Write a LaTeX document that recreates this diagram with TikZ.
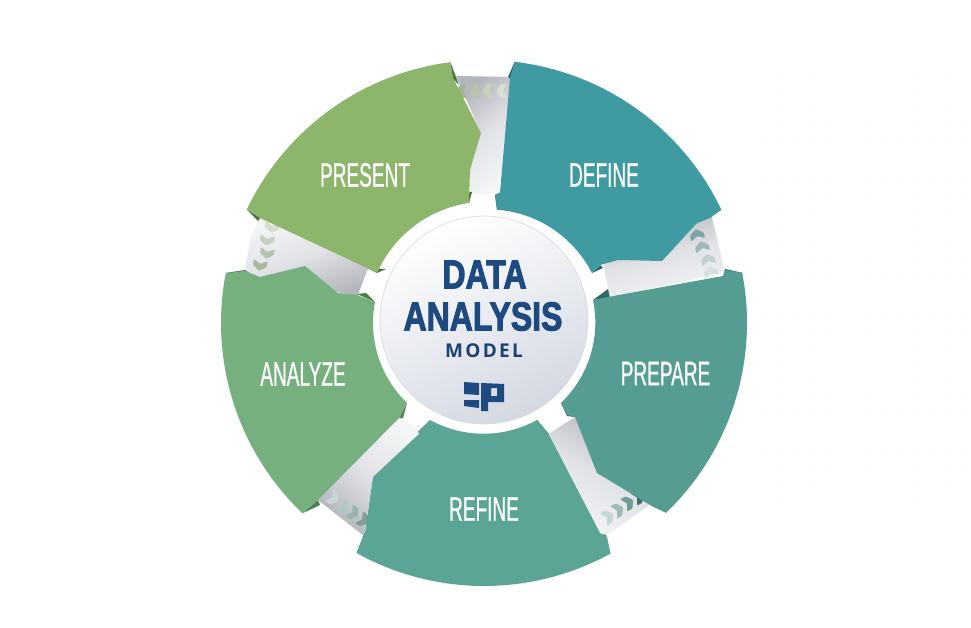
\documentclass[tikz,border=0pt]{standalone}
\usepackage{fontspec}
\setmainfont{Liberation Sans}
\newfontfamily\lblfont[FakeStretch=0.56,FakeBold=0.6]{Liberation Sans}
\newfontfamily\titlefont[FakeStretch=0.79,FakeBold=2.4]{Liberation Sans Bold}
\newfontfamily\modelfont[LetterSpace=12]{Open Sans Bold}
\definecolor{cpresent}{HTML}{8DB56B}
\definecolor{cdefine}{HTML}{3F9AA1}
\definecolor{cprepare}{HTML}{559C92}
\definecolor{crefine}{HTML}{5BA596}
\definecolor{canalyze}{HTML}{76B07F}
\definecolor{dpresent}{HTML}{4F7148}
\definecolor{ddefine}{HTML}{25696F}
\definecolor{dprepare}{HTML}{2C6A66}
\definecolor{drefine}{HTML}{2C6F68}
\definecolor{danalyze}{HTML}{4D7F4E}
\definecolor{navy}{HTML}{1D4A80}
\definecolor{ribdark}{HTML}{B4B6BD}
\definecolor{ribmid}{HTML}{E0E2E7}
\definecolor{riblight}{HTML}{F3F5F6}
\definecolor{discdark}{HTML}{D3D8E2}
\definecolor{discedge}{HTML}{D9DCE3}
\def\oarc#1#2{-- plot[domain=#1:#2,samples=40,variable=\t] ({484+263*cos(\t)},{323-263*sin(\t)})}
\def\iarc#1#2#3#4{-- plot[domain=0:1,samples=30,variable=\t] ({484+(#2+(#4-#2)*\t)*cos(#1+(#3-#1)*\t)},{323-(#2+(#4-#2)*\t)*sin(#1+(#3-#1)*\t)})}
\def\chev#1#2#3#4{\definecolor{chevc}{HTML}{#4}\fill[chevc,shift={(#1,#2)},rotate=#3,rounded corners=1pt] (-5,-7) -- (1,-7) -- (6,0) -- (1,7) -- (-5,7) -- (-1,0) -- cycle;}
\tikzset{
  lbl/.style={inner sep=0pt,text=white,anchor=center,font=\lblfont\fontsize{34}{34}\selectfont},
  ttl/.style={inner sep=0pt,text=navy,anchor=center,font=\titlefont\fontsize{40.5}{40.5}\selectfont},
  rib/.style={draw=none,middle color=ribmid}
}
\begin{document}
\begin{tikzpicture}[x=1pt,y=-1pt]
\useasboundingbox (0,0) rectangle (971,628);
\fill[white] (0,0) rectangle (971,628);
% faint dots
\foreach \i in {0,...,12}{\foreach \j in {0,...,25}{
  \fill[black!4] ({763+17*\i},{75+17*\j}) circle (0.8);}}
% ribbons
\shade[left color=ribdark,right color=riblight,middle color=ribmid,shading angle=40] (456,76) -- (513,77) -- (499,194) -- (470,194) -- (470,170) -- (481,133) -- cycle;
\shade[top color=ribdark,bottom color=riblight,middle color=ribmid,shading angle=15] (603,262) -- (650,240) -- (705,215) -- (712,217) -- (725,272) -- (610,298) -- cycle;
\shade[top color=ribdark,bottom color=riblight,middle color=ribmid,shading angle=-30] (547,435) -- (575,417) -- (600,470) -- (652,503) -- (607,535) -- (600,535) -- cycle;
\shade[left color=riblight,right color=ribdark,middle color=ribmid,shading angle=-40] (400,417) -- (421,431) -- (373,477) -- (364,536) -- (318,500) -- cycle;
\shade[top color=riblight,bottom color=ribdark,middle color=ribmid,shading angle=20] (260,216) -- (369,266) -- (357,297) -- (330,290) -- (305,266) -- (260,280) -- (245,271) -- (250,240) -- cycle;
% chevrons
\chev{462}{91}{180}{A3B598}\chev{475}{91}{180}{B5C5A8}\chev{488}{91}{180}{C6D3BA}\chev{502}{91}{180}{D8E0D0}
\chev{697}{235}{105}{7EA3A8}\chev{702}{247}{105}{9DB8BC}\chev{708}{260}{105}{BDD0D2}\chev{711}{272}{105}{D5E0E3}
\chev{638}{497}{30}{3E6F70}\chev{628}{503}{30}{6F9C98}\chev{618}{510}{30}{9DBDB8}\chev{608}{517}{30}{C5D7D4}
\chev{333}{498}{-35}{C7D8D2}\chev{343}{507}{-35}{B0C8C0}\chev{353}{513}{-35}{98B5AD}\chev{363}{520}{-35}{7F9E97}
\chev{272}{227}{-100}{D5DCD0}\chev{267}{240}{-100}{C5D0BF}\chev{267}{253}{-100}{B5C4AE}\chev{260}{265}{-100}{A8B9A0}
% dark folds
\fill[dpresent] (450,61) -- (459,85) -- (453,79) -- cycle;
\fill[dpresent] (469,203) -- (472,192) -- (468,192) -- cycle;
\fill[dpresent] (247,210) -- (261,217) -- (258,221) -- cycle;
\fill[dpresent] (367,268) -- (377,273) -- (386,269) -- cycle;
\fill[ddefine] (515,61) -- (508,77) -- (512,80) -- cycle;
\fill[ddefine] (497,210) -- (495,195) -- (501,192) -- cycle;
\fill[ddefine] (721,210) -- (709,217) -- (697,224) -- cycle;
\fill[ddefine] (600,265) -- (592,273) -- (603,268) -- cycle;
\fill[dprepare] (743,273) -- (725,269) -- (723,277) -- cycle;
\fill[dprepare] (593,300) -- (608,289) -- (610,298) -- cycle;
\fill[dprepare] (561,403) -- (567,416) -- (575,417) -- cycle;
\fill[dprepare] (665,512) -- (650,505) -- (654,498) -- cycle;
\fill[drefine] (357,552) -- (365,532) -- (370,535) -- cycle;
\fill[drefine] (430,420) -- (418,432) -- (422,435) -- cycle;
\fill[drefine] (537,420) -- (549,434) -- (544,436) -- cycle;
\fill[drefine] (610,552) -- (606,535) -- (601,534) -- cycle;
\fill[danalyze] (225,273) -- (245,270) -- (258,279) -- cycle;
\fill[danalyze] (375,302) -- (357,294) -- (366,293) -- cycle;
\fill[danalyze] (407,403) -- (399,418) -- (403,418) -- cycle;
\fill[danalyze] (303,513) -- (318,500) -- (320,505) -- cycle;
% centre white plate
\fill[white] (483,322) circle (110);
% sectors
\fill[cpresent] (247,210) \oarc{154.5}{97.4} -- (453,78) -- (481,133) -- (470,170) -- (469,203) \iarc{97.1}{121}{155}{118} -- (367,268) -- (260,218) -- cycle;
\fill[cdefine] (515,61) \oarc{83.3}{25.5} -- (710,218) -- (697,223) -- (662,261) -- (618,260) -- (600,265) -- (592,273) \iarc{24.8}{119}{83.4}{114} -- (495,195) -- (500,193) -- (510,78) -- cycle;
\fill[cprepare] (743,273) \oarc{10.9}{-46.2} -- (650,505) -- (597,473) -- (575,417) -- (567,415) -- (561,403) \iarc{-46.1}{111}{11.9}{111.4} -- (608,297) -- (723,276) -- (725,270) -- cycle;
\fill[crefine] (610,552) \oarc{-61.2}{-119} -- (365,533) -- (373,477) -- (420,433) -- (418,432) -- (430,420) \iarc{-119.1}{111}{-61.3}{110.5} -- (548,433) -- (600,533) -- (607,537) -- cycle;
\fill[canalyze] (303,513) \oarc{226.4}{169.1} -- (245,271) -- (260,277) -- (305,266) -- (338,293) -- (357,295) -- (375,302) \iarc{169.1}{111}{226.1}{111} -- (400,417) -- (318,500) -- cycle;
% centre disc
\shade[top color=white,bottom color=discdark,shading angle=25,draw=discedge,line width=0.7pt] (484,320) circle (104);
% labels
\node[lbl] (present) at (365,175) {PRESENT};
\node[lbl] (define) at (604,175) {DEFINE};
\node[lbl] (prepare) at (665.5,373.5) {PREPARE};
\node[lbl] (refine) at (484,509) {REFINE};
\node[lbl] (analyze) at (303,374) {ANALYZE};
\node[ttl] (data) at (484.5,274.5) {DATA};
\node[ttl] (analysis) at (483,316.5) {ANALYSIS};
\node[inner sep=0pt,text=navy!90!black,anchor=center,font=\modelfont\fontsize{19}{19}\selectfont] (model) at (484,351) {MODEL};
% logo
\fill[navy] (464,382) -- (479,383) -- (479,395) -- (464,394) -- cycle;
\fill[navy] (464,400) -- (479,400) -- (479,408) -- (464,406) -- cycle;
\fill[navy,even odd rule] (481,383) -- (504,384) -- (504,402) -- (488,402) -- (488,411) -- (481,411) -- cycle (491,388) -- (497,388) -- (497,396) -- (491,396) -- cycle;
\end{tikzpicture}
\end{document}
